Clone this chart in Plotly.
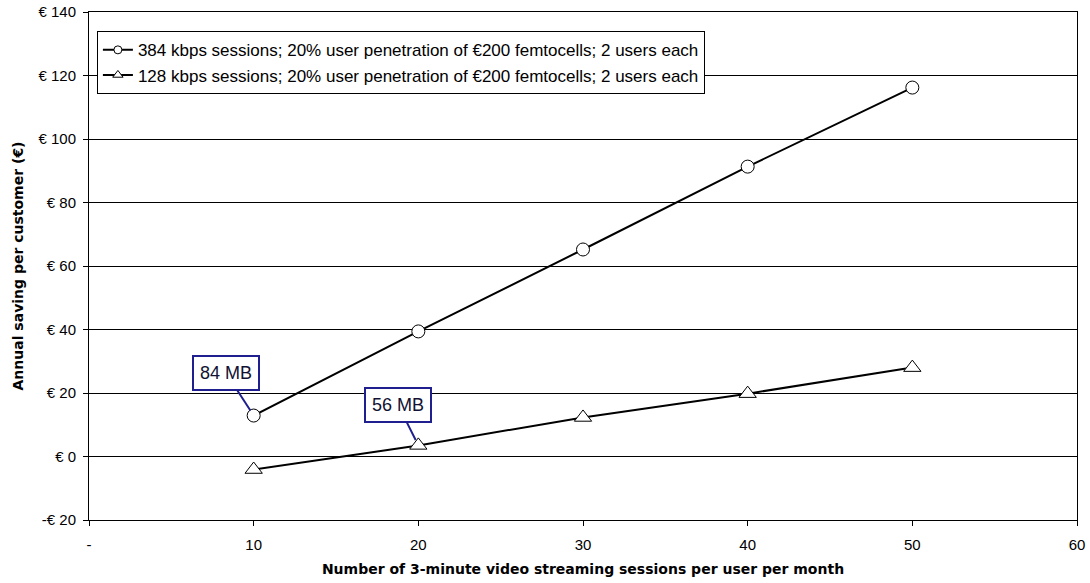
import plotly.graph_objects as go

sessions = [10, 20, 30, 40, 50]
saving_384 = [12.9, 39.4, 65.2, 91.3, 116.2]
saving_128 = [-4.1, 3.5, 12.3, 19.8, 28.0]
name_384 = "384 kbps sessions; 20% user penetration of €200 femtocells; 2 users each"
name_128 = "128 kbps sessions; 20% user penetration of €200 femtocells; 2 users each"

x_tickvals = [0, 10, 20, 30, 40, 50, 60]
x_ticktext = ["-", "10", "20", "30", "40", "50", "60"]
y_tickvals = [-20, 0, 20, 40, 60, 80, 100, 120, 140]
y_ticktext = ["-€ 20", "€ 0", "€ 20", "€ 40", "€ 60", "€ 80", "€ 100", "€ 120", "€ 140"]

callout_text = ["84 MB", "56 MB"]
callout_x = [10, 20]
callout_y = [saving_384[0], saving_128[1]]

series = [
    (name_384, saving_384, "circle", 13, 8),
    (name_128, saving_128, "triangle-up", 15, 9),
]

fig = go.Figure()
for name, ys, sym, size, lsize in series:
    fig.add_trace(go.Scatter(
        x=sessions, y=ys, name=name, mode="lines+markers", showlegend=False,
        line=dict(color="black", width=2),
        marker=dict(symbol=sym, size=size, color="white", line=dict(color="black", width=1)),
    ))
for name, ys, sym, size, lsize in series:
    # legend entry with the smaller symbol used in the reference legend
    fig.add_trace(go.Scatter(
        x=[None], y=[None], name=name, mode="lines+markers", showlegend=True,
        line=dict(color="black", width=2),
        marker=dict(symbol=sym, size=lsize, color="white", line=dict(color="black", width=1)),
    ))

offsets = [(-28, -43), (-20, -40)]
for t, xv, yv, (ax, ay) in zip(callout_text, callout_x, callout_y, offsets):
    fig.add_annotation(
        x=xv, y=yv, text=t, showarrow=True, ax=ax, ay=ay,
        arrowhead=0, arrowwidth=2, arrowcolor="#1f1f8f", standoff=6,
        bordercolor="#1f1f8f", borderwidth=2, borderpad=6, bgcolor="white",
        font=dict(family="Liberation Sans, Arial", size=18, color="#111133"),
    )

fig.update_layout(
    width=1090, height=583,
    margin=dict(l=89, r=13, t=12, b=63),
    paper_bgcolor="white", plot_bgcolor="white",
    font=dict(family="Liberation Sans, Arial", size=14, color="black"),
    showlegend=True,
    legend=dict(
        x=0.008, y=0.962, xanchor="left", yanchor="top",
        bordercolor="black", borderwidth=1, bgcolor="white",
        font=dict(family="Liberation Sans, Arial", size=17, color="black"),
        tracegroupgap=0, itemwidth=30,
    ),
    xaxis=dict(
        range=[0, 60], tickvals=x_tickvals, ticktext=x_ticktext,
        showgrid=False, zeroline=False, automargin=False,
        showline=True, linecolor="black", linewidth=1, mirror=True,
        ticks="outside", ticklen=5, tickcolor="black", ticklabelstandoff=6,
        tickfont=dict(family="Liberation Sans, Arial", size=15),
        title=dict(text="<b>Number of 3-minute video streaming sessions per user per month</b>",
                   font=dict(family="DejaVu Sans, Verdana", size=14), standoff=12),
    ),
    yaxis=dict(
        range=[-20, 140], tickvals=y_tickvals, ticktext=y_ticktext,
        showgrid=True, gridcolor="black", gridwidth=1, zeroline=False, automargin=False,
        showline=True, linecolor="black", linewidth=1, mirror=True,
        ticks="outside", ticklen=5, tickcolor="black", ticklabelstandoff=4,
        tickfont=dict(family="Liberation Sans, Arial", size=15),
        title=dict(text="<b>Annual saving per customer (€)</b>",
                   font=dict(family="DejaVu Sans, Verdana", size=14), standoff=11),
    ),
)

fig.write_html(
    "out.html",
    config={"displayModeBar": False},
    post_script="document.body.style.margin='0';document.body.style.overflow='hidden';",
)
